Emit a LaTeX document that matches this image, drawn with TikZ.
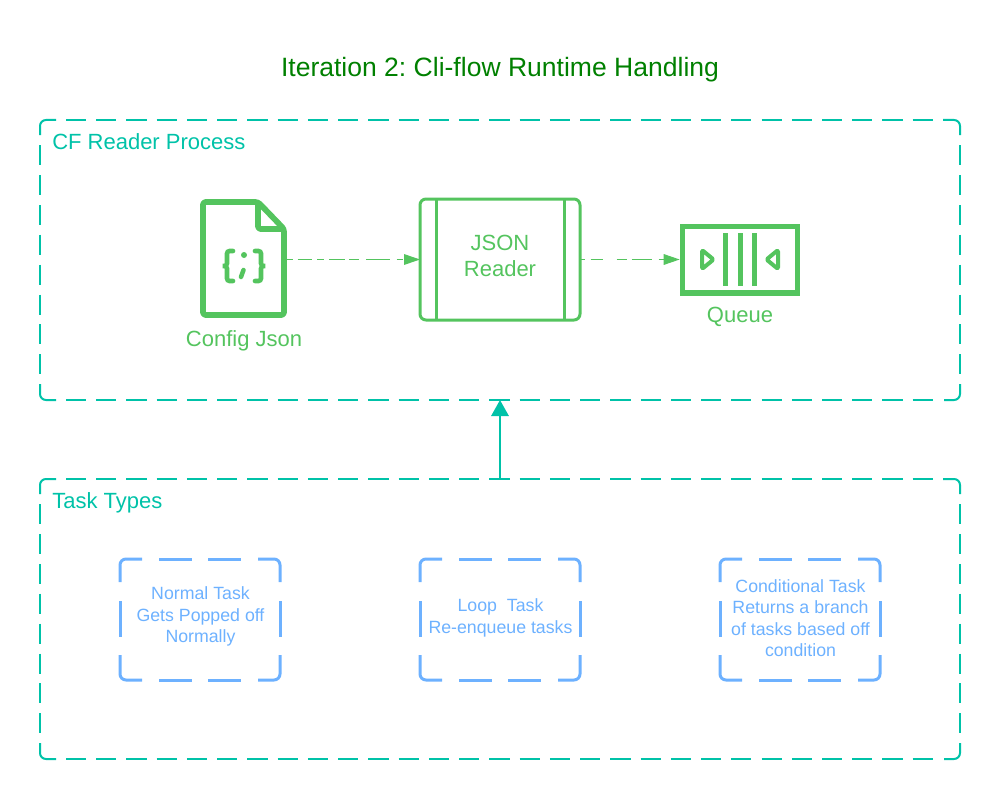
\documentclass[tikz,border=0pt]{standalone}
\usepackage{fontspec}
\setmainfont{Liberation Sans}
\usetikzlibrary{arrows.meta}
\definecolor{titlegreen}{HTML}{008000}
\definecolor{iconcolor}{HTML}{54C45E}
\definecolor{boxteal}{HTML}{00C2A8}
\definecolor{taskblue}{HTML}{6DB1FF}
\tikzset{
    groupbox/.style={inner sep=0pt, outer sep=0pt, minimum width=690pt, minimum height=210pt},
    groupline/.style={draw=boxteal, line width=1.5pt},
    grouplabel/.style={text=boxteal, font=\fontsize{16.5}{19}\selectfont, anchor=west, inner sep=0pt},
    taskline/.style={draw=taskblue, line width=2.25pt},
    tasktext/.style={text=taskblue, align=center, font=\fontsize{13.3}{16}\selectfont, inner sep=0pt},
    iconlabel/.style={text=iconcolor, font=\fontsize{16.5}{19.5}\selectfont, align=center, inner sep=0pt},
    iconline/.style={draw=iconcolor, line width=4.3pt, rounded corners=2pt, line join=round},
    bracket/.style={draw=iconcolor, line width=3.5pt, rounded corners=2pt, line cap=round},
    flow/.style={draw=iconcolor, line width=0.75pt, -{Triangle[length=12pt,width=8pt]}},
    linkarrow/.style={draw=boxteal, line width=1.5pt, -{Triangle[length=12pt,width=13pt]}},
}
\begin{document}
\begin{tikzpicture}[x=0.75pt, y=-0.75pt]
    \frenchspacing
    \useasboundingbox (0, 0) rectangle (1000, 799);
    \node[text=titlegreen, font=\fontsize{19.9}{24}\selectfont, inner sep=0pt] (title) at (500, 70) {Iteration 2: Cli-flow Runtime Handling};

    \node[groupbox] (readerproc) at (500, 260) {};
    \node[groupbox] (tasktypes) at (500, 619) {};
    \foreach \topy in {120, 479} {
        \pgfmathsetmacro{\boty}{\topy+280}
        \draw[groupline, rounded corners=4.5pt] (40, {\topy+15}) |- (56, \topy) (943, \topy) -| (960, {\topy+15})
            (960, {\boty-16}) |- (944, \boty) (56, \boty) -| (40, {\boty-16});
        \draw[groupline, dash pattern=on 15.15pt off 7.53pt] (66, \topy) -- (933, \topy) (66, \boty) -- (933, \boty);
        \draw[groupline, dash pattern=on 15pt off 7.43pt] (40, {\topy+25}) -- (40, {\topy+255}) (960, {\topy+25}) -- (960, {\topy+255});
    }
    \node[grouplabel] (readerlabel) at (52, 142) {CF Reader Process};
    \node[grouplabel] (typeslabel) at (52, 503) {Task Types};

    \node[minimum width=64.5pt, minimum height=88.5pt, inner sep=0pt, outer sep=0pt] (config) at (244, 259.5) {};
    \draw[iconline] (203, 202) -- (258, 202) -- (284, 229) -- (284, 315) -- (203, 315) -- cycle;
    \draw[iconline] (258, 202) -- (258, 229) -- (284, 229);
    \draw[bracket] (233, 251) -- (227, 251) -- (227, 266) -- (221, 266) -- (227, 266) -- (227, 281) -- (233, 281);
    \draw[bracket] (255, 251) -- (261, 251) -- (261, 266) -- (267, 266) -- (261, 266) -- (261, 281) -- (255, 281);
    \fill[iconcolor] (244, 255) circle (2.25pt);
    \draw[draw=iconcolor, line width=3.4pt, line cap=round] (243.5, 270) -- (241, 277);
    \node[iconlabel] (configlabel) at (244, 341) {Config Json};

    \node[draw=iconcolor, line width=2.25pt, rounded corners=4.5pt, minimum width=120pt, minimum height=90.75pt, inner sep=0pt, outer sep=0pt] (reader) at (500, 259.5) {};
    \draw[draw=iconcolor, line width=2.25pt] (436.5, 199) -- (436.5, 320);
    \draw[draw=iconcolor, line width=2.25pt] (564, 199) -- (564, 320);
    \node[iconlabel] (readertext) at (500, 256) {JSON\\Reader};

    \node[draw=iconcolor, line width=4pt, minimum width=86.5pt, minimum height=50pt, inner sep=0pt, outer sep=2pt] (queue) at (740, 259.5) {};
    \foreach \barx in {725.7, 740, 754.3}
        \draw[draw=iconcolor, line width=3.75pt] (\barx, 233) -- (\barx, 286);
    \draw[iconline, line width=3pt, rounded corners=1pt] (702, 250) -- (713.5, 259.5) -- (702, 269) -- cycle;
    \draw[iconline, line width=3pt, rounded corners=1pt] (778, 250) -- (766.5, 259.5) -- (778, 269) -- cycle;
    \node[iconlabel] (queuelabel) at (740, 317) {Queue};

    \draw[flow, dash pattern=on 4.5pt off 3.5pt on 11pt off 3.75pt on 5.25pt off 3.5pt on 12pt off 3.2pt on 7.3pt off 5.25pt on 18pt off 5pt on 4.5pt off 9pt] (config.east) -- (reader.west);
    \draw[flow, dash pattern=on 3.4pt off 4.5pt on 9pt off 10.5pt on 7.5pt off 3.75pt on 15pt off 5.25pt on 4.5pt off 9pt] (reader.east) -- (queue.west);

    \foreach \leftx in {120, 420, 720} {
        \draw[taskline, rounded corners=4.5pt] (\leftx, 582) |- ({\leftx+22}, 559) ({\leftx+138}, 559) -| ({\leftx+160}, 582)
            ({\leftx+160}, 655) |- ({\leftx+138}, 680) ({\leftx+22}, 680) -| (\leftx, 655);
        \draw[taskline, dash pattern=on 24.75pt off 12pt] ({\leftx+39}, 559) -- ({\leftx+121}, 559) ({\leftx+39}, 680) -- ({\leftx+121}, 680);
        \draw[taskline] (\leftx, 601) -- (\leftx, 637) ({\leftx+160}, 601) -- ({\leftx+160}, 637);
    }
    \node[tasktext] (normaltask) at (200.5, 616.5) {Normal Task\\Gets Popped off\\Normally};
    \node[tasktext] (looptask) at (500.5, 618) {Loop\ \ Task\\Re-enqueue tasks};
    \node[tasktext] (condtask) at (800.5, 618) {Conditional Task\\Returns a branch\\of tasks based off\\condition};

    \draw[linkarrow] (tasktypes.north) -- (readerproc.south);
\end{tikzpicture}
\end{document}
